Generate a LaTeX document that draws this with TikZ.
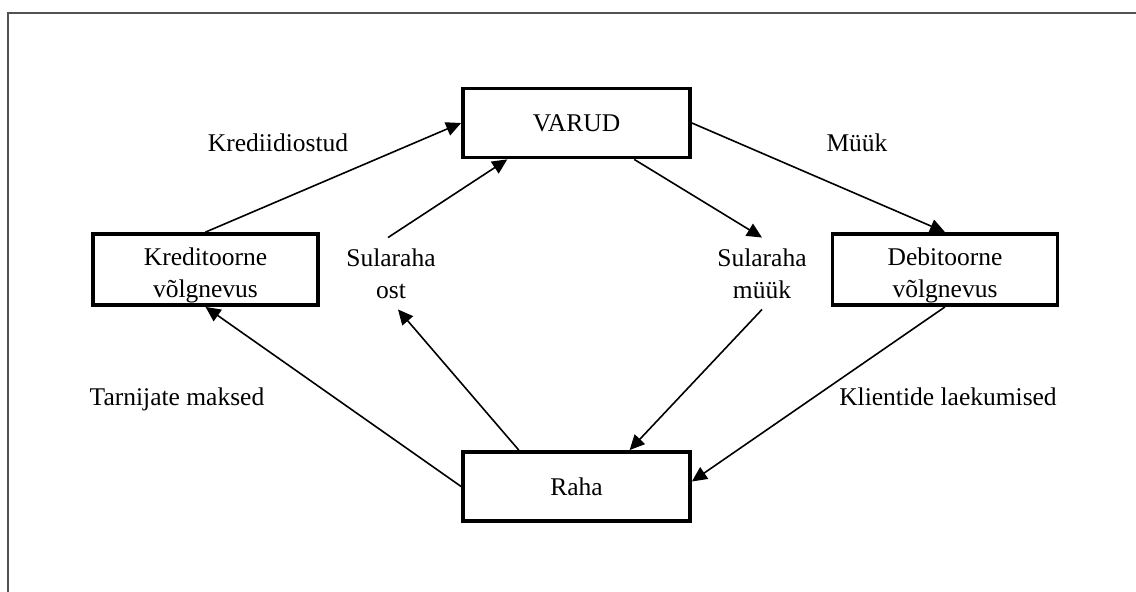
\documentclass[tikz,border=0pt]{standalone}
\usepackage{fontspec}
\setmainfont{Liberation Serif}
\usetikzlibrary{arrows.meta,calc}
\begin{document}
\begin{tikzpicture}[x=1pt,y=-1pt,
  every node/.style={font=\fontsize{25.5}{32}\selectfont, outer sep=0pt},
  boxnode/.style={draw=black, line width=3.8pt, minimum width=227pt, minimum height=69pt, inner sep=0pt, outer sep=1.9pt},
  txt/.style={align=center, inner sep=0pt},
  lbl/.style={align=center, inner xsep=0pt, inner ysep=11pt},
  conn/.style={line width=1.6pt, -{Triangle[length=15pt,width=14pt]}},
  seg/.style={line width=1.6pt}
]
\useasboundingbox (0,0) rectangle (1136,592);
\fill[white] (0,0) rectangle (1136,592);
% outer frame (top and left edges only)
\draw[color=black!68, line width=2pt] (8,592) -- (8,13) -- (1136,13);

% boxes
\node[boxnode] (varud) at (576.5,123) {VARUD};
\node[boxnode] (raha) at (576.5,486.5) {Raha};
\node[boxnode, minimum width=225pt, minimum height=71pt] (kred) at (205.5,269.5) {};
\node[boxnode, minimum width=225pt, minimum height=71pt] (deb) at (945,269.5) {};
\node[txt] (kredtxt) at ([yshift=-6pt]kred.center) {Kreditoorne\\võlgnevus};
\node[txt] (debtxt) at ([yshift=-6pt]deb.center) {Debitoorne\\võlgnevus};

% free labels
\node[txt] (lkred) at (278,143) {Krediidiostud};
\node[txt] (lmuuk) at (857,143) {Müük};
\node[txt] (ltarn) at (177,399) {Tarnijate maksed};
\node[txt] (lklie) at (948,397) {Klientide laekumised};
\node[lbl] (ost) at (391,273.5) {Sularaha\\ost};
\node[lbl] (smuuk) at (762,273.5) {Sularaha\\müük};

% connectors
\draw[conn] (kred.north) -- (varud.west);
\draw[conn] (varud.east) -- (deb.north);
\draw[conn] (deb.south) -- ([yshift=5pt]raha.east);
\draw[conn] (raha.west) -- (kred.south);
% Sularaha ost
\draw[conn] ($(raha.north west)!0.25!(raha.north east)$) -- ([xshift=7pt]ost.south);
\draw[conn] ([xshift=-3pt]ost.north) -- ($(varud.south west)!0.2!(varud.south east)$);
% Sularaha muuk
\draw[conn] ($(varud.south west)!0.75!(varud.south east)$) -- (smuuk.north);
\draw[conn] (smuuk.south) -- ($(raha.north west)!0.73!(raha.north east)$);
\end{tikzpicture}
\end{document}
